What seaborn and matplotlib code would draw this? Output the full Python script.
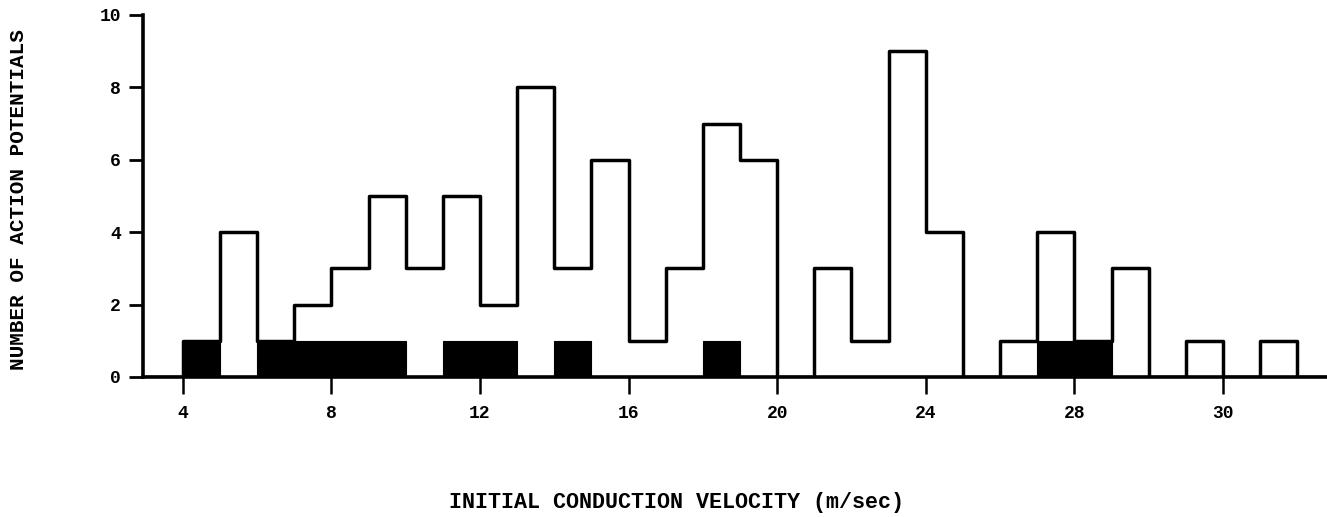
import numpy as np
import pandas as pd
import matplotlib
matplotlib.use("Agg")
import matplotlib.pyplot as plt
import seaborn as sns

# Unit-wide velocity bins (m/sec), identified by their left edges
bin_left = list(range(4, 34))
# All action potentials per bin (open outline)
all_counts = [1, 4, 1, 2, 3, 5, 3, 5, 2, 8, 3, 6, 1, 3, 7, 6, 0, 3, 1, 9,
              4, 0, 1, 4, 1, 3, 0, 1, 0, 1]
# Subset shown as solid black bars
subset_counts = [1, 0, 1, 1, 1, 1, 0, 1, 1, 0, 1, 0, 0, 0, 1, 0, 0, 0, 0, 0,
                 0, 0, 0, 1, 1, 0, 0, 0, 0, 0]

x_ticks = [4, 8, 12, 16, 20, 24, 28, 32]
x_tick_labels = ["4", "8", "12", "16", "20", "24", "28", "30"]
y_ticks = [0, 2, 4, 6, 8, 10]

x_label = "INITIAL CONDUCTION VELOCITY (m/sec)"
y_label = "NUMBER OF ACTION POTENTIALS"

sns.set_style("ticks")
plt.rcParams["font.family"] = ["Liberation Mono", "DejaVu Sans Mono"]
plt.rcParams["font.weight"] = "bold"

df = pd.DataFrame({
    "velocity": np.array(bin_left, dtype=float) + 0.5,
    "all": np.array(all_counts, dtype=float),
    "subset": np.array(subset_counts, dtype=float),
})

fig = plt.figure(figsize=(13.27, 5.17), dpi=100)
ax = fig.add_axes([0.1078, 0.2708, 0.8922, 0.7002])

# Outline of the full distribution as a stepped histogram
sns.histplot(data=df, x="velocity", weights="all", binwidth=1, binrange=(3, 35),
             element="step", fill=False, color="black", linewidth=2.5,
             ax=ax, zorder=2)
# Solid bars for the subset
sns.histplot(data=df, x="velocity", weights="subset", binwidth=1, binrange=(3, 35),
             element="bars", fill=True, color="black", edgecolor="black",
             linewidth=0.8, alpha=1, ax=ax, zorder=3)

ax.set_xlim(2.93, 34.8)
ax.set_ylim(0, 10)
ax.set_xticks(x_ticks)
ax.set_xticklabels(x_tick_labels)
ax.set_yticks(y_ticks)

sns.despine(ax=ax)
for side in ("left", "bottom"):
    ax.spines[side].set_linewidth(2.6)
    ax.spines[side].set_color("black")

ax.tick_params(axis="y", length=10, width=2, pad=6, labelsize=13, colors="black")
ax.tick_params(axis="x", length=12, width=1.8, pad=8, labelsize=13, colors="black")
for lab in ax.get_xticklabels() + ax.get_yticklabels():
    lab.set_fontweight("bold")

ax.set_xlabel(x_label, fontsize=15.7, fontweight="bold", color="black")
ax.set_ylabel(y_label, fontsize=15.1, fontweight="bold", color="black")
ax.xaxis.set_label_coords(0.4505, -0.318)
ax.yaxis.set_label_coords(-0.097, 0.489)

fig.savefig("out.png", dpi=100, facecolor="white")
